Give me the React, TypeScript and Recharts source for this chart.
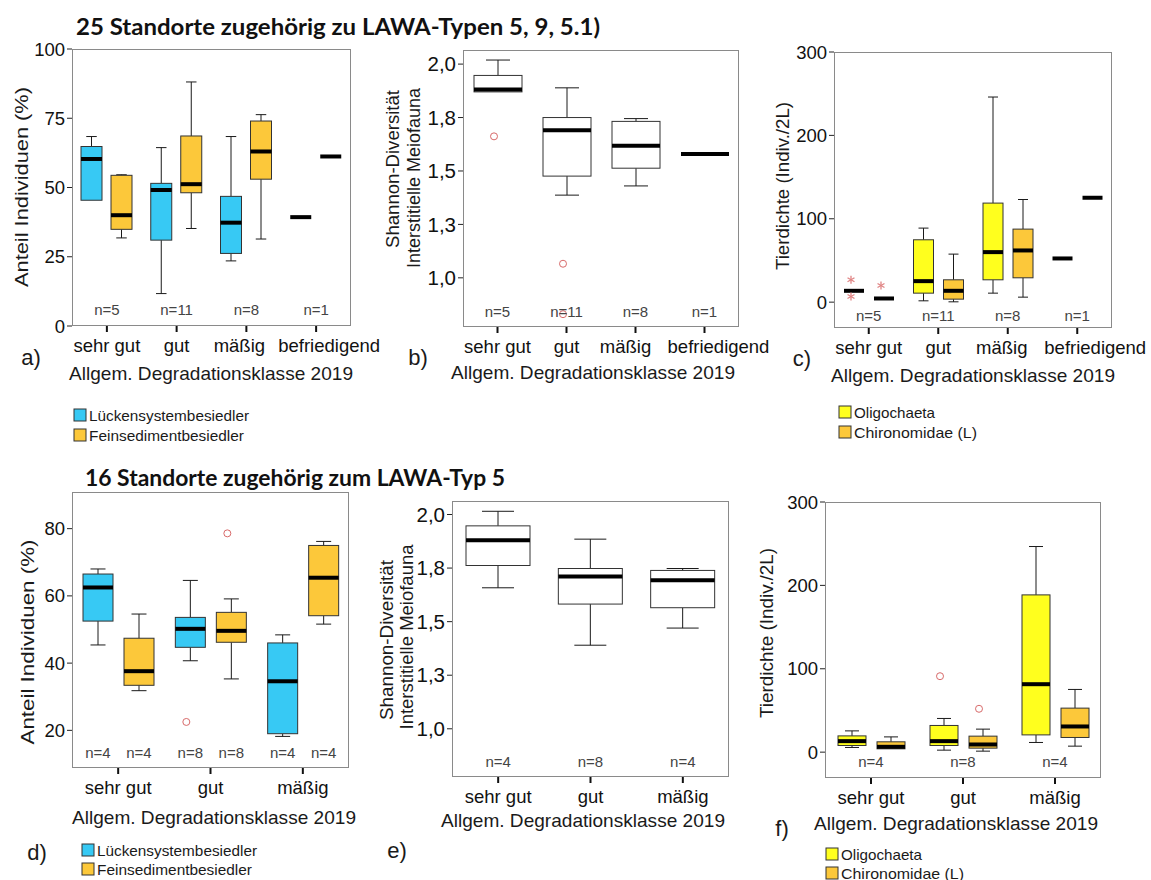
import React from 'react';
import { ComposedChart, Bar, XAxis, YAxis } from 'recharts';

// [min, q1, median, q3, max]
type Stat = [number, number, number, number, number];

const FONT = "'Liberation Sans', Arial, sans-serif";
const BLUE = '#37c9f4';
const ORANGE = '#fcc83a';
const YELLOW = '#ffff1e';

const gruppen4 = ['sehr gut', 'gut', 'mäßig', 'befriedigend'];
const gruppen3 = ['sehr gut', 'gut', 'mäßig'];
const n25 = ['n=5', 'n=11', 'n=8', 'n=1'];
const n16 = ['n=4', 'n=8', 'n=4'];
const n16proBox = ['n=4', 'n=8', 'n=4'];

const ticksAnteil25 = [0, 25, 50, 75, 100];
const ticksAnteil16 = [20, 40, 60, 80];
const ticksShannon = [1.0, 1.25, 1.5, 1.75, 2.0];
const ticksDichte = [0, 100, 200, 300];

// a) Anteil Individuen (%), 25 Standorte
const aLuecken: Stat[] = [
  [45.4, 45.4, 60.3, 64.8, 68.4],
  [11.7, 31.0, 49.1, 51.5, 64.4],
  [23.5, 26.2, 37.3, 46.8, 68.4],
  [39.3, 39.3, 39.3, 39.3, 39.3],
];
const aFein: Stat[] = [
  [31.8, 34.9, 40.0, 54.4, 54.6],
  [35.2, 48.1, 51.2, 68.6, 88.1],
  [31.4, 53.0, 63.0, 74.0, 76.3],
  [61.2, 61.2, 61.2, 61.2, 61.2],
];

// b) Shannon-Diversität, 25 Standorte
const bShannon: Stat[] = [
  [1.87, 1.87, 1.881, 1.947, 2.019],
  [1.387, 1.476, 1.69, 1.75, 1.889],
  [1.43, 1.513, 1.618, 1.732, 1.745],
  [1.58, 1.58, 1.58, 1.58, 1.58],
];
const bShannonAusr = [[1.662], [1.066, 0.83], [], []];

// c) Tierdichte, 25 Standorte
const cOligo: Stat[] = [
  [13.6, 13.6, 13.6, 13.6, 13.6],
  [1.6, 10.8, 25.2, 74.8, 88.8],
  [10.8, 26.8, 60.0, 118.8, 246.0],
  [52.4, 52.4, 52.4, 52.4, 52.4],
];
const cChiro: Stat[] = [
  [4.4, 4.4, 4.4, 4.4, 4.4],
  [0.4, 3.6, 13.6, 26.8, 57.6],
  [6.0, 29.2, 62.0, 87.6, 123.1],
  [125.2, 125.2, 125.2, 125.2, 125.2],
];
const cOligoExtrem = [[26.8, 6.8], [], [], []];
const cChiroExtrem = [[20.0], [], [], []];

// d) Anteil Individuen (%), 16 Standorte
const dLuecken: Stat[] = [
  [45.4, 52.5, 62.5, 66.5, 68.0],
  [40.7, 44.7, 50.2, 53.6, 64.6],
  [18.2, 19.0, 34.6, 46.0, 48.4],
];
const dFein: Stat[] = [
  [31.8, 33.4, 37.6, 47.4, 54.6],
  [35.3, 46.2, 49.6, 55.1, 59.1],
  [51.6, 54.1, 65.4, 75.0, 76.2],
];
const dLueckenAusr = [[], [22.5], []];
const dFeinAusr = [[], [78.6], []];

// e) Shannon-Diversität, 16 Standorte
const eShannon: Stat[] = [
  [1.658, 1.762, 1.88, 1.947, 2.015],
  [1.39, 1.582, 1.711, 1.748, 1.885],
  [1.47, 1.565, 1.693, 1.739, 1.748],
];

// f) Tierdichte, 16 Standorte
const fOligo: Stat[] = [
  [5.6, 8.0, 13.2, 19.5, 25.5],
  [2.4, 8.0, 13.2, 32.0, 40.4],
  [11.6, 20.7, 81.5, 188.6, 246.6],
];
const fChiro: Stat[] = [
  [4.0, 4.0, 6.4, 12.4, 18.3],
  [1.2, 4.8, 9.2, 19.2, 27.6],
  [7.2, 17.6, 30.8, 52.8, 75.2],
];
const fOligoAusr = [[], [91.1], []];
const fChiroAusr = [[], [52.0], []];

type Series = {
  stats: Stat[];
  fill: string;
  ausr?: number[][];
  extrem?: number[][];
  n?: string[];
};

type PanelProps = {
  frame: { x: number; y: number; w: number; h: number };
  domain: [number, number];
  ticks: number[];
  fmt?: (v: number) => string;
  tickFont?: number;
  cats: string[];
  series: Series[];
  groupN?: string[];
  labelDx?: number[];
  barSize: number;
  barGap?: number;
  nDy: number;
};

const komma = (v: number) => v.toFixed(1).replace('.', ',');

const makeBox = (k: number, s: Series, domain: [number, number], rows: any[], nDy: number) => (props: any) => {
  const { x, y, width, height, index } = props;
  const row = props.payload ?? rows[index];
  const st: Stat = row['s' + k];
  if (!st) return <g />;
  const top = Math.min(y, y + height);
  const h = Math.abs(height);
  const py = (v: number) => top + ((domain[1] - v) / (domain[1] - domain[0])) * h;
  const cx = x + width / 2;
  const [mn, q1, md, q3, mx] = st;
  const single = q1 === q3;
  const cap = width / 4;
  const ausr: number[] = row['o' + k] || [];
  const extrem: number[] = row['e' + k] || [];
  const nText: string = row['n' + k] || '';
  return (
    <g>
      {!single && (
        <g>
          {mx > q3 && <line x1={cx} x2={cx} y1={py(mx)} y2={py(q3)} stroke="#1a1a1a" />}
          {mx > q3 && <line x1={cx - cap} x2={cx + cap} y1={py(mx)} y2={py(mx)} stroke="#1a1a1a" />}
          {mn < q1 && <line x1={cx} x2={cx} y1={py(q1)} y2={py(mn)} stroke="#1a1a1a" />}
          {mn < q1 && <line x1={cx - cap} x2={cx + cap} y1={py(mn)} y2={py(mn)} stroke="#1a1a1a" />}
          <rect x={x} y={py(q3)} width={width} height={py(q1) - py(q3)} fill={s.fill} stroke="#333" strokeWidth={1} />
        </g>
      )}
      <line x1={x} x2={x + width} y1={py(md)} y2={py(md)} stroke="#000" strokeWidth={4} />
      {ausr.map((v, i) => (
        <circle key={'o' + i} cx={cx - 4} cy={py(v)} r={3.5} fill="none" stroke="#d86a6a" strokeWidth={1} />
      ))}
      {extrem.map((v, i) => {
        const ex = cx - 3;
        const ey = py(v);
        const r = 4;
        return (
          <g key={'e' + i} stroke="#e08585" strokeWidth={1.3}>
            <line x1={ex} x2={ex} y1={ey - r} y2={ey + r} />
            <line x1={ex - r * 0.87} x2={ex + r * 0.87} y1={ey - r / 2} y2={ey + r / 2} />
            <line x1={ex - r * 0.87} x2={ex + r * 0.87} y1={ey + r / 2} y2={ey - r / 2} />
          </g>
        );
      })}
      {nText && (
        <text x={cx} y={top + h - nDy + 5.3} textAnchor="middle" fontSize={15} fill="#444" fontFamily={FONT}>
          {nText}
        </text>
      )}
    </g>
  );
};

const PanelChart = (p: PanelProps) => {
  const rows = p.cats.map((name, i) => {
    const row: any = { name, groupN: p.groupN ? p.groupN[i] : '' };
    p.series.forEach((s, k) => {
      row['span' + k] = p.domain;
      row['s' + k] = s.stats[i];
      row['o' + k] = s.ausr ? s.ausr[i] : [];
      row['e' + k] = s.extrem ? s.extrem[i] : [];
      row['n' + k] = s.n ? s.n[i] : '';
    });
    return row;
  });
  const ML = 60;
  const MT = 16;
  const MR = 50;
  const MB = 44;
  const renderTick = (tp: any) => {
    const { x, y, payload, index } = tp;
    const gn = rows[index] ? rows[index].groupN : '';
    const dx = p.labelDx ? p.labelDx[index] || 0 : 0;
    return (
      <g>
        <text x={x + dx} y={y + 18} textAnchor="middle" fontSize={18.5} fill="#111" fontFamily={FONT}>
          {payload.value}
        </text>
        {gn && (
          <text x={x} y={y - 8 - p.nDy + 5.3} textAnchor="middle" fontSize={15} fill="#444" fontFamily={FONT}>
            {gn}
          </text>
        )}
      </g>
    );
  };
  return (
    <div style={{ position: 'absolute', left: p.frame.x - ML, top: p.frame.y - MT }}>
      <ComposedChart
        width={p.frame.w + ML + MR}
        height={p.frame.h + MT + MB}
        data={rows}
        margin={{ top: MT, right: MR, left: 0, bottom: 0 }}
        barGap={p.barGap ?? 4}
        barSize={p.barSize}
      >
        <XAxis
          dataKey="name"
          type="category"
          height={MB}
          interval={0}
          axisLine={false}
          tickLine={{ stroke: '#111', strokeWidth: 2 }}
          tickSize={6}
          tickMargin={2}
          tick={renderTick}
        />
        <YAxis
          type="number"
          width={ML}
          domain={p.domain}
          ticks={p.ticks}
          allowDataOverflow
          interval={0}
          axisLine={false}
          tickLine={{ stroke: '#222' }}
          tickSize={5}
          tickMargin={2}
          tickFormatter={p.fmt}
          tick={{ fontSize: p.tickFont ?? 18.5, fill: '#111', fontFamily: FONT }}
        />
        {p.series.map((s, k) => (
          <Bar key={k} dataKey={'span' + k} isAnimationActive={false} shape={makeBox(k, s, p.domain, rows, p.nDy)} />
        ))}
      </ComposedChart>
      <div
        style={{
          position: 'absolute',
          left: ML,
          top: MT,
          width: p.frame.w,
          height: p.frame.h,
          border: '1px solid #8a8a8a',
          boxSizing: 'border-box',
          pointerEvents: 'none',
        }}
      />
    </div>
  );
};

const YTitle = ({ x, cy, len, text }: { x: number; cy: number; len: number; text: string }) => (
  <text
    x={x}
    y={cy}
    transform={`rotate(-90 ${x} ${cy})`}
    textAnchor="middle"
    dominantBaseline="central"
    fontSize={18.5}
    fill="#1a1a1a"
    fontFamily={FONT}
    textLength={len}
    lengthAdjust="spacingAndGlyphs"
  >
    {text}
  </text>
);

const XTitle = ({ cx, cy, text }: { cx: number; cy: number; text: string }) => (
  <text
    x={cx}
    y={cy}
    textAnchor="middle"
    dominantBaseline="central"
    fontSize={19}
    fill="#1a1a1a"
    fontFamily={FONT}
    textLength={284}
    lengthAdjust="spacingAndGlyphs"
  >
    {text}
  </text>
);

const Letter = ({ x, y, t }: { x: number; y: number; t: string }) => (
  <text x={x} y={y} textAnchor="middle" dominantBaseline="central" fontSize={22} fill="#1a1a1a" fontFamily={FONT}>
    {t}
  </text>
);

const LegendItem = ({ x, y, fill, text, len }: { x: number; y: number; fill: string; text: string; len: number }) => (
  <g>
    <rect x={x} y={y - 6} width={12} height={12} fill={fill} stroke="#333" strokeWidth={1} />
    <text
      x={x + 15}
      y={y}
      dominantBaseline="central"
      fontSize={15}
      fill="#1a1a1a"
      fontFamily={FONT}
      textLength={len}
      lengthAdjust="spacingAndGlyphs"
    >
      {text}
    </text>
  </g>
);

export default function App() {
  return (
    <div style={{ position: 'absolute', left: 0, top: 0, width: 1151, height: 880, background: '#fff', overflow: 'hidden' }}>
      <PanelChart
        frame={{ x: 72, y: 49, w: 279, h: 277 }}
        domain={[0, 100]}
        ticks={ticksAnteil25}
        cats={gruppen4}
        groupN={n25}
        labelDx={[0, 0, -7, 13]}
        series={[
          { stats: aLuecken, fill: BLUE },
          { stats: aFein, fill: ORANGE },
        ]}
        barSize={21}
        barGap={9}
        nDy={16.4}
      />
      <PanelChart
        frame={{ x: 463, y: 50, w: 276, h: 277 }}
        domain={[0.77, 2.066]}
        ticks={ticksShannon}
        fmt={komma}
        tickFont={20.5}
        cats={gruppen4}
        groupN={n25}
        labelDx={[0, 0, -10, 14]}
        series={[{ stats: bShannon, fill: '#fff', ausr: bShannonAusr }]}
        barSize={48}
        nDy={15.3}
      />
      <PanelChart
        frame={{ x: 834, y: 52, w: 278, h: 276 }}
        domain={[-31, 300]}
        ticks={ticksDichte}
        cats={gruppen4}
        groupN={n25}
        labelDx={[0, 0, -6, 18]}
        series={[
          { stats: cOligo, fill: YELLOW, extrem: cOligoExtrem },
          { stats: cChiro, fill: ORANGE, extrem: cChiroExtrem },
        ]}
        barSize={20}
        barGap={10}
        nDy={12.3}
      />
      <PanelChart
        frame={{ x: 72, y: 492, w: 277, h: 276 }}
        domain={[8.8, 90.9]}
        ticks={ticksAnteil16}
        cats={gruppen3}
        series={[
          { stats: dLuecken, fill: BLUE, ausr: dLueckenAusr, n: n16proBox },
          { stats: dFein, fill: ORANGE, ausr: dFeinAusr, n: n16proBox },
        ]}
        barSize={30}
        barGap={11}
        nDy={15.6}
      />
      <PanelChart
        frame={{ x: 452, y: 501, w: 277, h: 276 }}
        domain={[0.775, 2.063]}
        ticks={ticksShannon}
        fmt={komma}
        tickFont={20.5}
        cats={gruppen3}
        groupN={n16}
        series={[{ stats: eShannon, fill: '#fff' }]}
        barSize={64}
        nDy={15.6}
      />
      <PanelChart
        frame={{ x: 825, y: 502, w: 276, h: 276 }}
        domain={[-31, 300]}
        ticks={ticksDichte}
        cats={gruppen3}
        groupN={n16}
        series={[
          { stats: fOligo, fill: YELLOW, ausr: fOligoAusr },
          { stats: fChiro, fill: ORANGE, ausr: fChiroAusr },
        ]}
        barSize={28}
        barGap={11}
        nDy={16}
      />
      <svg width={1151} height={880} style={{ position: 'absolute', left: 0, top: 0, pointerEvents: 'none' }}>
        <text x={76} y={35} fontSize={22} fontWeight={700} fill="#111" fontFamily="Lato, 'Open Sans', sans-serif" textLength={524} lengthAdjust="spacingAndGlyphs">
          25 Standorte zugehörig zu LAWA-Typen 5, 9, 5.1)
        </text>
        <text x={85} y={486} fontSize={22} fontWeight={700} fill="#111" fontFamily="Lato, 'Open Sans', sans-serif" textLength={420} lengthAdjust="spacingAndGlyphs">
          16 Standorte zugehörig zum LAWA-Typ 5
        </text>

        <YTitle x={21} cy={187} len={200} text="Anteil Individuen  (%)" />
        <YTitle x={392} cy={169} len={158} text="Shannon-Diversität" />
        <YTitle x={413} cy={178} len={180} text="Interstitielle Meiofauna" />
        <YTitle x={782} cy={186} len={168} text="Tierdichte (Indiv./2L)" />
        <YTitle x={27} cy={642} len={205} text="Anteil Individuen  (%)" />
        <YTitle x={386} cy={640} len={160} text="Shannon-Diversität" />
        <YTitle x={406} cy={637} len={185} text="Interstitielle Meiofauna" />
        <YTitle x={766} cy={633} len={170} text="Tierdichte (Indiv./2L)" />

        <XTitle cx={211} cy={373} text="Allgem. Degradationsklasse 2019" />
        <XTitle cx={593} cy={372} text="Allgem. Degradationsklasse 2019" />
        <XTitle cx={973} cy={375} text="Allgem. Degradationsklasse 2019" />
        <XTitle cx={214} cy={817} text="Allgem. Degradationsklasse 2019" />
        <XTitle cx={583} cy={820} text="Allgem. Degradationsklasse 2019" />
        <XTitle cx={956} cy={823} text="Allgem. Degradationsklasse 2019" />

        <Letter x={31} y={357} t="a)" />
        <Letter x={418} y={357} t="b)" />
        <Letter x={802} y={358} t="c)" />
        <Letter x={37} y={852} t="d)" />
        <Letter x={397} y={850} t="e)" />
        <Letter x={782} y={828} t="f)" />

        <LegendItem x={74} y={415} fill={BLUE} text="Lückensystembesiedler" len={160} />
        <LegendItem x={74} y={435} fill={ORANGE} text="Feinsedimentbesiedler" len={155} />
        <LegendItem x={839} y={412} fill={YELLOW} text="Oligochaeta" len={81} />
        <LegendItem x={839} y={432} fill={ORANGE} text="Chironomidae (L)" len={123} />
        <LegendItem x={82} y={850} fill={BLUE} text="Lückensystembesiedler" len={160} />
        <LegendItem x={82} y={869} fill={ORANGE} text="Feinsedimentbesiedler" len={155} />
        <LegendItem x={826} y={854} fill={YELLOW} text="Oligochaeta" len={81} />
        <LegendItem x={826} y={873} fill={ORANGE} text="Chironomidae (L)" len={123} />
      </svg>
    </div>
  );
}
